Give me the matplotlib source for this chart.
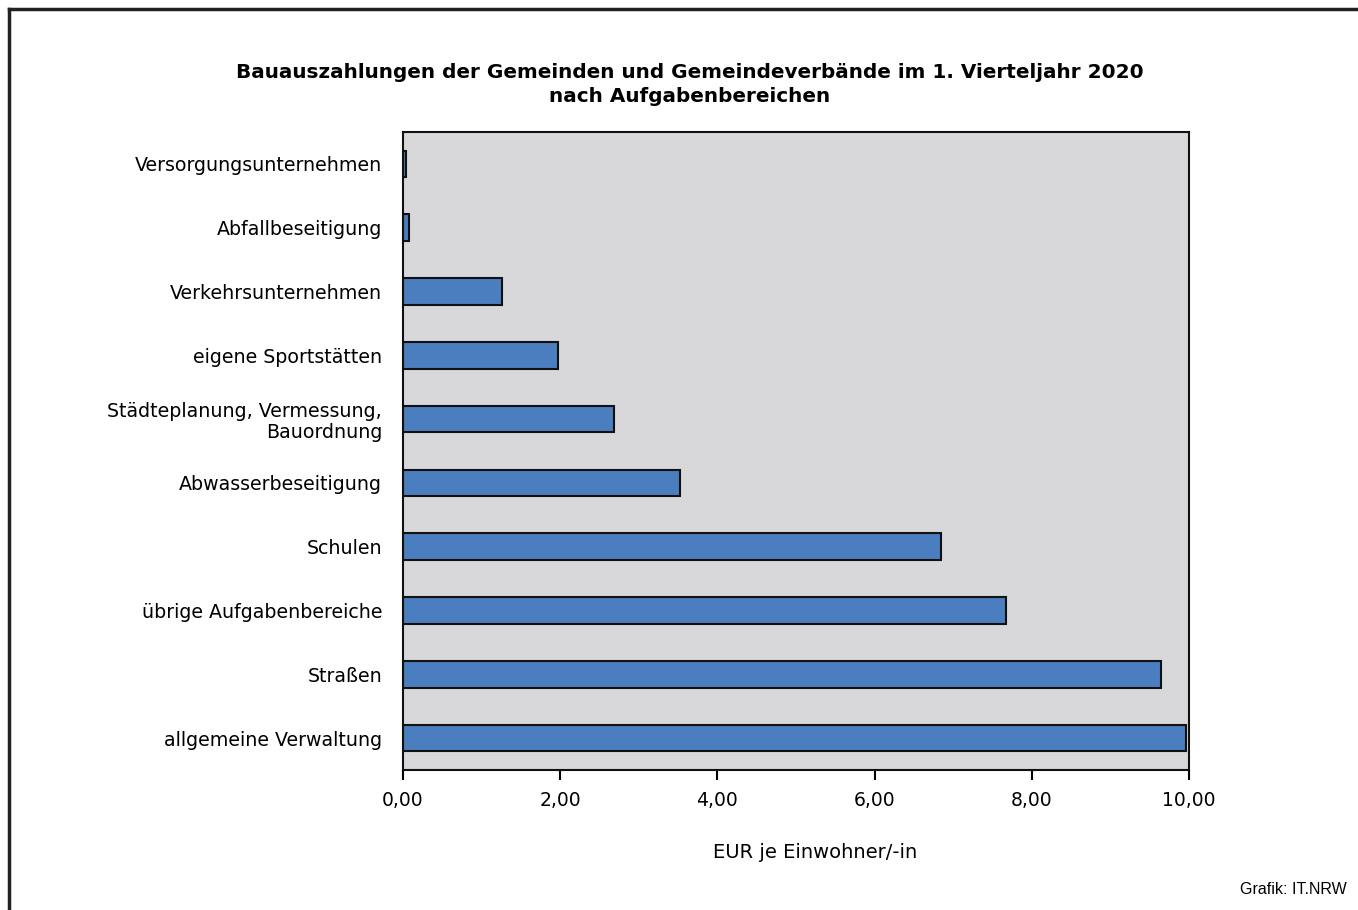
import matplotlib
matplotlib.use("Agg")
import matplotlib.pyplot as plt
from matplotlib.lines import Line2D

categories = [
    "allgemeine Verwaltung",
    "Straßen",
    "übrige Aufgabenbereiche",
    "Schulen",
    "Abwasserbeseitigung",
    "Städteplanung, Vermessung,\nBauordnung",
    "eigene Sportstätten",
    "Verkehrsunternehmen",
    "Abfallbeseitigung",
    "Versorgungsunternehmen",
]
values = [9.96, 9.64, 7.67, 6.85, 3.53, 2.69, 1.97, 1.26, 0.07, 0.04]
xticks = [0, 2, 4, 6, 8, 10]
xtick_labels = ["0,00", "2,00", "4,00", "6,00", "8,00", "10,00"]

plt.rcParams['font.family'] = ['DejaVu Sans']

W, H = 1358, 910
fig = plt.figure(figsize=(W / 100, H / 100), dpi=100)
ax = fig.add_axes([403 / W, 1 - 770 / H, (1189 - 403) / W, (770 - 132) / H])
ax.set_facecolor('#D8D8DA')

ypos = list(range(len(categories)))
ax.barh(ypos, values, height=0.42, color='#4A7EBE', edgecolor='#111111', linewidth=1.5)
ax.set_xlim(0, 10)
ax.set_ylim(-0.5, len(categories) - 0.5)
ax.set_yticks(ypos)
ax.set_yticklabels(categories, fontsize=13.7, ha='right', multialignment='right', linespacing=1.1)
ax.tick_params(axis='y', length=0, pad=15)
ax.set_xticks(xticks)
ax.set_xticklabels(xtick_labels, fontsize=13.5)
ax.tick_params(axis='x', length=7, width=1.5, pad=8, direction='out')
for s in ax.spines.values():
    s.set_linewidth(1.5)
    s.set_color('#111111')

fig.text(690 / W, 1 - 72 / H, "Bauauszahlungen der Gemeinden und Gemeindeverbände im 1. Vierteljahr 2020",
         ha='center', va='center', fontsize=14.45, fontweight='bold')
fig.text(690 / W, 1 - 97 / H, "nach Aufgabenbereichen",
         ha='center', va='center', fontsize=14.45, fontweight='bold')
fig.text(815 / W, 1 - 852 / H, "EUR je Einwohner/-in", ha='center', va='center', fontsize=14)
fig.text(1347 / W, 1 - 890 / H, "Grafik: IT.NRW", ha='right', va='center', fontsize=11.5,
         family='Liberation Sans')

# outer frame (top and left)
fig.add_artist(Line2D([9 / W, 1], [1 - 9 / H, 1 - 9 / H], color='#222222', linewidth=2.5, transform=fig.transFigure))
fig.add_artist(Line2D([9 / W, 9 / W], [0, 1 - 9 / H], color='#222222', linewidth=2.5, transform=fig.transFigure))

fig.savefig("out.png", dpi=100)
